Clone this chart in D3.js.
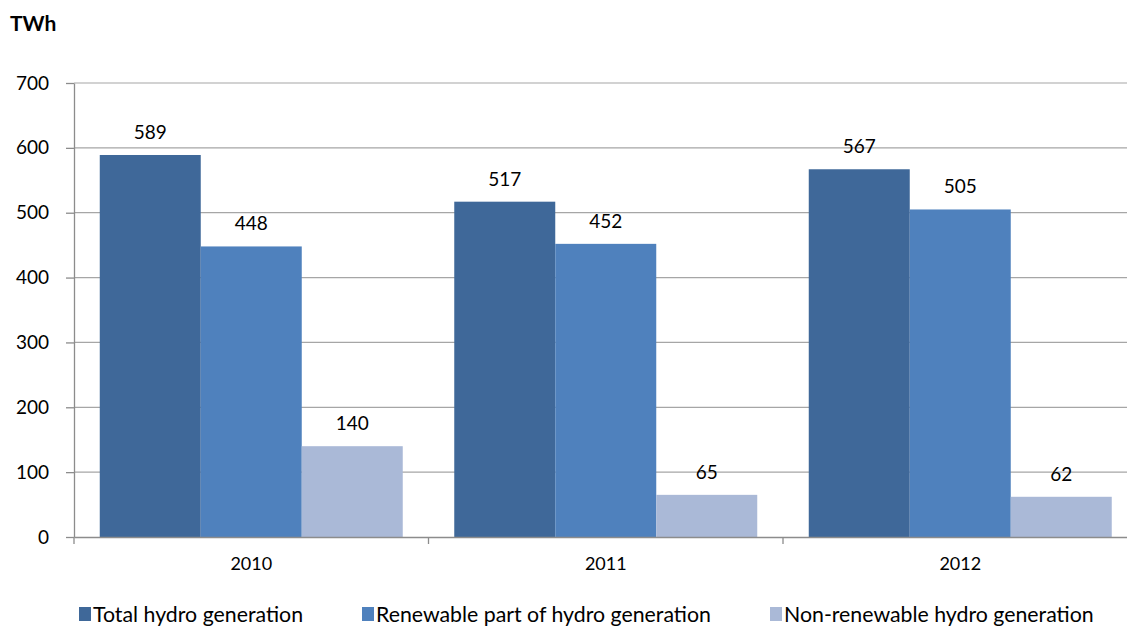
<!DOCTYPE html>
<html>
<head>
<meta charset="utf-8">
<script src="https://cdn.jsdelivr.net/npm/d3@7"></script>
<style>
  html, body { margin: 0; padding: 0; background: #fff; }
  svg { display: block; }
  text { font-family: Lato, "Open Sans", sans-serif; fill: #000; }
</style>
</head>
<body>
<svg id="chart" width="1127" height="627"></svg>
<script>
// Hydro generation, TWh
const years = ["2010", "2011", "2012"];
const seriesNames = [
  "Total hydro generation",
  "Renewable part of hydro generation",
  "Non-renewable hydro generation"
];
const totalHydro = [589, 517, 567];
const renewableHydro = [448, 452, 505];
const nonRenewableHydro = [140, 65, 62];
const yTicks = [0, 100, 200, 300, 400, 500, 600, 700];
const colors = ["#3F6899", "#4F81BD", "#AAB9D7"];

const seriesValues = [totalHydro, renewableHydro, nonRenewableHydro];

const svg = d3.select("#chart");
const width = 1127, height = 627;

// Plot area (the last category runs past the right edge of the view)
const x0 = 74, bandW = 354.5;
const yTop = 83, yBottom = 537;

const x = d3.scaleBand()
  .domain(years)
  .range([x0, x0 + bandW * years.length])
  .paddingInner(0).paddingOuter(0);

const inner = d3.scaleBand()
  .domain(d3.range(seriesNames.length))
  .range([0, x.bandwidth()])
  .paddingOuter(0.255)
  .paddingInner(0);

const y = d3.scaleLinear().domain([0, 700]).range([yBottom, yTop]);

// Gridlines
svg.append("g")
  .selectAll("line")
  .data(yTicks.filter(d => d > 0))
  .join("line")
  .attr("x1", x0).attr("x2", width)
  .attr("y1", d => y(d)).attr("y2", d => y(d))
  .attr("stroke", "#A6A6A6").attr("stroke-width", 1.2);

// Y axis
const yAxis = svg.append("g")
  .attr("transform", `translate(${x0},0)`)
  .call(d3.axisLeft(y).tickValues(yTicks).tickSize(8).tickPadding(17).tickSizeOuter(0));
yAxis.select(".domain").attr("stroke", "#8C8C8C").attr("stroke-width", 1.3);
yAxis.selectAll(".tick line").attr("stroke", "#8C8C8C").attr("stroke-width", 1.3);
yAxis.selectAll(".tick text")
  .attr("font-family", "Lato, 'Open Sans', sans-serif")
  .attr("font-size", 19).attr("fill", "#000");

// Bars
const groups = svg.append("g")
  .selectAll("g")
  .data(years)
  .join("g")
  .attr("transform", d => `translate(${x(d)},0)`);

groups.selectAll("rect")
  .data((d, i) => seriesValues.map((s, k) => ({ k, v: s[i] })))
  .join("rect")
  .attr("x", d => inner(d.k))
  .attr("width", inner.bandwidth())
  .attr("y", d => y(d.v))
  .attr("height", d => y(0) - y(d.v))
  .attr("fill", d => colors[d.k]);

// Value labels
groups.selectAll("text.val")
  .data((d, i) => seriesValues.map((s, k) => ({ k, v: s[i] })))
  .join("text")
  .attr("class", "val")
  .attr("x", d => inner(d.k) + inner.bandwidth() / 2)
  .attr("y", d => y(d.v) - 16)
  .attr("text-anchor", "middle")
  .attr("font-size", 19)
  .text(d => d.v);

// X axis
const xAxis = svg.append("g")
  .attr("transform", `translate(0,${yBottom})`)
  .call(d3.axisBottom(x).tickSize(0).tickPadding(20).tickSizeOuter(0));
xAxis.select(".domain").attr("stroke", "#8C8C8C").attr("stroke-width", 1.3);
xAxis.selectAll(".tick text")
  .attr("font-family", "Lato, 'Open Sans', sans-serif")
  .attr("font-size", 18).attr("fill", "#000");

// Category separators below the axis
svg.append("g")
  .selectAll("line")
  .data(d3.range(years.length + 1))
  .join("line")
  .attr("x1", i => x0 + i * bandW).attr("x2", i => x0 + i * bandW)
  .attr("y1", yBottom).attr("y2", yBottom + 7)
  .attr("stroke", "#8C8C8C").attr("stroke-width", 1.3);

// Unit label
svg.append("text")
  .attr("x", 10).attr("y", 31)
  .attr("font-size", 21).attr("font-weight", "bold")
  .text("TWh");

// Legend
const legendX = [79, 362, 770];
const legend = svg.append("g")
  .selectAll("g")
  .data(seriesNames)
  .join("g")
  .attr("transform", (d, i) => `translate(${legendX[i]},607)`);
legend.append("rect")
  .attr("width", 12).attr("height", 14)
  .attr("fill", (d, i) => colors[i]);
legend.append("text")
  .attr("x", 14).attr("y", 15)
  .attr("font-size", 21.3)
  .text(d => d);
</script>
</body>
</html>
